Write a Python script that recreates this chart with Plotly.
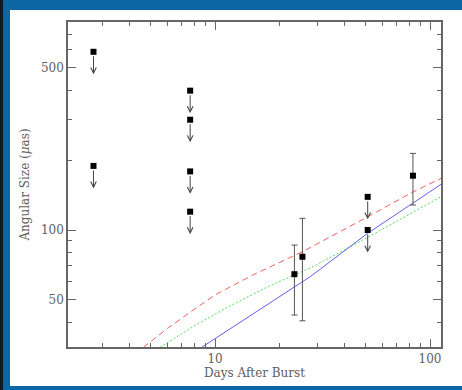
import numpy as np
import plotly.graph_objects as go

# ---------------- data ----------------
# upper limits (square + downward arrow)
limit_days = [2.72, 2.72, 7.66, 7.66, 7.66, 7.66, 51.3, 51.3]
limit_size = [587, 189, 399, 299, 179, 120, 139, 100]

# detections with error bars
det_days = [23.4, 25.5, 83.3]
det_size = [64.5, 76.7, 171.5]
det_err_plus = [21.6, 35.6, 42.5]
det_err_minus = [21.5, 36.1, 43.3]

# model curves
red_days = [4.64, 6.0, 7.5, 10.0, 15.0, 25.5, 51.3, 83.3, 112.5]
red_size = [31.2, 37.6, 43.6, 52.5, 64.0, 80.6, 114.0, 146.0, 167.0]
green_days = [5.55, 8.0, 11.7, 18.0, 27.7, 51.3, 112.5]
green_size = [31.2, 38.6, 47.0, 57.5, 68.5, 93.0, 139.2]
blue_days = [8.67, 27.7, 51.3, 112.5]
blue_size = [31.2, 62.9, 96.8, 157.4]

x_major = [10, 100]
x_minor = [3, 4, 5, 6, 7, 8, 9, 20, 30, 40, 50, 60, 70, 80, 90]
y_major = [50, 100, 500]
y_minor = [40, 60, 70, 80, 90, 200, 300, 400, 600, 700]

LIMIT_ARROW_FACTOR = 0.80  # arrow length in data ratio (log space)

# ---------------- figure ----------------
W, H = 462, 390
L, R, T, B = 68, 21, 22, 43
pw, ph = W - L - R, H - T - B

def px_x(p):
    return (p - L) / pw

def px_y(q):
    return (H - B - q) / ph

FONT = "DejaVu Serif"
GRAY = "#606060"
BLUE = "#0b67a3"

fig = go.Figure()

fig.add_trace(go.Scatter(x=red_days, y=red_size, mode="lines",
                         line=dict(color="#f06060", width=1, dash="6px,4px"),
                         hoverinfo="skip", showlegend=False))
fig.add_trace(go.Scatter(x=green_days, y=green_size, mode="lines",
                         line=dict(color="#55dd55", width=1, dash="2px,2px"),
                         hoverinfo="skip", showlegend=False))
fig.add_trace(go.Scatter(x=blue_days, y=blue_size, mode="lines",
                         line=dict(color="#6060ee", width=1),
                         hoverinfo="skip", showlegend=False))

fig.add_trace(go.Scatter(x=det_days, y=det_size, mode="markers",
                         marker=dict(symbol="square", size=6, color="black"),
                         error_y=dict(type="data", array=det_err_plus,
                                      arrayminus=det_err_minus, color="#555555",
                                      thickness=1, width=3),
                         showlegend=False))
fig.add_trace(go.Scatter(x=limit_days, y=limit_size, mode="markers",
                         marker=dict(symbol="square", size=6, color="black"),
                         showlegend=False))

for d, s in zip(limit_days, limit_size):
    fig.add_annotation(x=np.log10(d), y=np.log10(s * LIMIT_ARROW_FACTOR),
                       ax=np.log10(d), ay=np.log10(s),
                       xref="x", yref="y", axref="x", ayref="y",
                       text="", showarrow=True, arrowhead=5, arrowsize=1.1,
                       arrowwidth=1, arrowcolor="#444444", standoff=0, startstandoff=3)

# frame kept inside the page: dark far-left edge, blue strips left, top and bottom
frame = [
    (px_x(0), px_x(3), px_y(H), px_y(0), "#0b1b2c"),  # dark edge
    (px_x(3), px_x(10), px_y(H), px_y(0), BLUE),      # left
    (px_x(3), px_x(W), px_y(10), px_y(0), BLUE),      # top
    (px_x(3), px_x(W), px_y(H), px_y(386), BLUE),     # bottom
]
for x0, x1, y0, y1, c in frame:
    fig.add_shape(type="rect", xref="paper", yref="paper", layer="above",
                  x0=x0, x1=x1, y0=y0, y1=y1, fillcolor=c, line=dict(width=0))

axis_common = dict(
    type="log", showgrid=False, zeroline=False,
    showline=True, linecolor="#666666", linewidth=1.5, mirror="ticks",
    ticks="inside", ticklen=8, tickwidth=1, tickcolor="#666666",
    tickfont=dict(family=FONT, size=12, color=GRAY),
)

fig.update_xaxes(
    **axis_common,
    range=[np.log10(2.07), np.log10(112.5)],
    tickmode="array", tickvals=x_major, ticktext=[str(v) for v in x_major],
    minor=dict(tickmode="array", tickvals=x_minor, ticks="inside", ticklen=4,
               tickwidth=1, tickcolor="#666666"),
    title=dict(text="Days After Burst", font=dict(family=FONT, size=12, color=GRAY),
               standoff=3),
)
fig.update_yaxes(
    **axis_common,
    range=[np.log10(31.3), np.log10(789)],
    tickmode="array", tickvals=y_major, ticktext=[str(v) for v in y_major],
    minor=dict(tickmode="array", tickvals=y_minor, ticks="inside", ticklen=4,
               tickwidth=1, tickcolor="#666666"),
    title=dict(text="Angular Size (<i>μ</i>as)", font=dict(family=FONT, size=12, color=GRAY),
               standoff=9),
)

fig.update_layout(
    width=W, height=H,
    margin=dict(l=L, r=R, t=T, b=B, autoexpand=False),
    paper_bgcolor="white",
    plot_bgcolor="white",
    showlegend=False,
)

fig.write_html("out.html")
